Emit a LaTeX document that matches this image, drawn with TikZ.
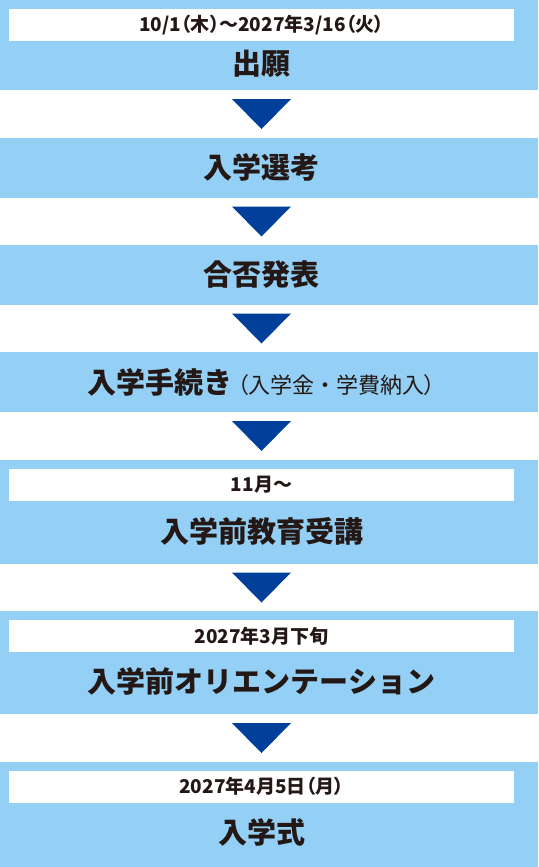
\documentclass[tikz,border=0pt]{standalone}
\usepackage{fontspec}
\usepackage{tikz}
\usetikzlibrary{calc,positioning}
\newfontfamily\cjk{Noto Sans CJK JP}
\newfontfamily\cjkpalt{Noto Sans CJK JP}[RawFeature=+palt]
\definecolor{ink}{HTML}{231815}
\definecolor{stepblue}{HTML}{94D0F5}
\definecolor{arrowblue}{HTML}{00409A}
\tikzset{
  box/.style={fill=stepblue, minimum width=538pt, inner sep=0pt, outer sep=0pt},
  band/.style={fill=white, minimum width=505pt, minimum height=32pt, inner sep=0pt, outer sep=0pt,
    text=ink, font={\cjkpalt\bfseries\fontsize{19}{21}\selectfont}},
  title/.style={text=ink, inner sep=0pt, font={\cjk\bfseries\fontsize{29}{31}\selectfont}},
  tri/.style={fill=arrowblue}
}

\begin{document}
\begin{tikzpicture}[x=1pt, y=1pt, node distance=47.5pt]
  \useasboundingbox (0,0) rectangle (538,-867);
  \coordinate (axis) at (261.5,0);

  % steps
  \node[box, minimum height=90pt, anchor=north] (apply) at (269,0) {};
  \node[box, minimum height=60pt, below=of apply] (exam) {};
  \node[box, minimum height=59.5pt, below=of exam] (result) {};
  \node[box, minimum height=60pt, below=of result] (enrol) {};
  \node[box, minimum height=104pt, below=of enrol] (prep) {};
  \node[box, minimum height=103pt, below=of prep] (orient) {};
  \node[box, minimum height=105.5pt, below=of orient] (ceremony) {};

  % dates
  \node[band, anchor=north] (applyDate) at ($(apply.north -| axis)+(0,-9)$) {10/1（木）～2027年3/16（火）};
  \node[band, anchor=north] (prepDate) at ($(prep.north -| axis)+(0,-9)$) {11月～};
  \node[band, anchor=north] (orientDate) at ($(orient.north -| axis)+(0,-9)$) {2027年3月下旬};
  \node[band, anchor=north] (ceremonyDate) at ($(ceremony.north -| axis)+(0,-9)$) {2027年4月5日（月）};

  % titles
  \node[title] (applyTitle) at ($(apply.north -| axis)+(0,-63.5)$) {出願};
  \node[title] (examTitle) at (exam.center -| axis) {入学選考};
  \node[title] (resultTitle) at (result.center -| axis) {合否発表};
  \node[title] (enrolTitle) at (enrol.center -| axis) {入学手続き{\mdseries\fontsize{22}{24}\selectfont{\cjkpalt\ （}入学金・学費納入{\cjkpalt ）}}};
  \node[title] (prepTitle) at ($(prep.north -| axis)+(0,-72)$) {入学前教育受講};
  \node[title] (orientTitle) at ($(orient.north -| axis)+(0,-70.5)$) {入学前オリエンテーション};
  \node[title] (ceremonyTitle) at ($(ceremony.north -| axis)+(0,-71)$) {入学式};

  % arrows between steps
  \fill[tri] ($(apply.south -| axis)+(-29.5,-9)$) -- ($(apply.south -| axis)+(29.5,-9)$) -- ($(exam.north -| axis)+(0,8.5)$) -- cycle;
  \fill[tri] ($(exam.south -| axis)+(-29.5,-9)$) -- ($(exam.south -| axis)+(29.5,-9)$) -- ($(result.north -| axis)+(0,8.5)$) -- cycle;
  \fill[tri] ($(result.south -| axis)+(-29.5,-9)$) -- ($(result.south -| axis)+(29.5,-9)$) -- ($(enrol.north -| axis)+(0,8.5)$) -- cycle;
  \fill[tri] ($(enrol.south -| axis)+(-29.5,-9)$) -- ($(enrol.south -| axis)+(29.5,-9)$) -- ($(prep.north -| axis)+(0,8.5)$) -- cycle;
  \fill[tri] ($(prep.south -| axis)+(-29.5,-9)$) -- ($(prep.south -| axis)+(29.5,-9)$) -- ($(orient.north -| axis)+(0,8.5)$) -- cycle;
  \fill[tri] ($(orient.south -| axis)+(-29.5,-9)$) -- ($(orient.south -| axis)+(29.5,-9)$) -- ($(ceremony.north -| axis)+(0,8.5)$) -- cycle;
\end{tikzpicture}
\end{document}
